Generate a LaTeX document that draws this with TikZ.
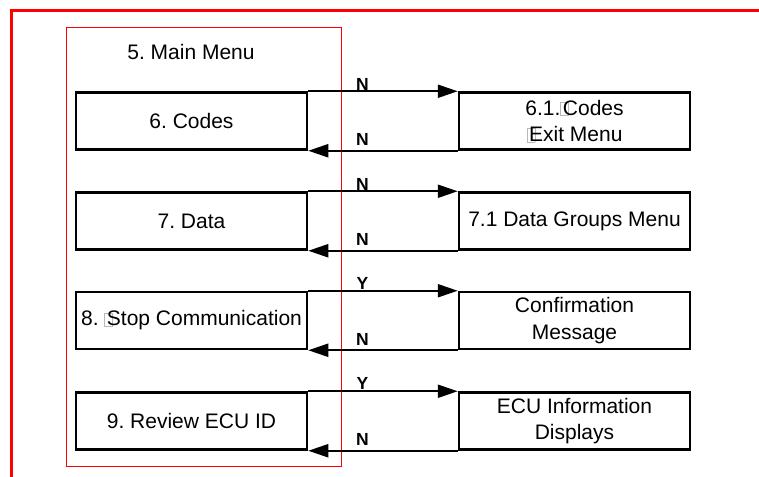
\documentclass[tikz,border=0pt]{standalone}
\usepackage{fontspec}
\setmainfont{Liberation Sans}
\usetikzlibrary{arrows.meta}
\frenchspacing
\newcommand\tofu{\makebox[0.12em][l]{{\color{gray!55}\fboxsep=0pt\fboxrule=0.4pt\fbox{\rule{0pt}{0.62em}\hspace{0.36em}}}}}
\tikzset{
  menubox/.style={draw=black, line width=2.5pt, minimum width=231pt, minimum height=57pt, inner sep=0pt, align=center, font=\fontsize{21}{26.5}\selectfont},
  flow/.style={line width=2.2pt, -{Triangle[length=20pt,width=13pt]}},
  yn/.style={font=\fontsize{17.5}{18}\selectfont\bfseries, inner sep=0pt}
}
\begin{document}
\begin{tikzpicture}[x=1pt,y=-1pt]
\useasboundingbox (0,0) rectangle (759,476);
\clip (0,0) rectangle (759,476);
\fill[white] (0,0) rectangle (759,476);
% outer red frame (extends beyond the picture)
\draw[red, line width=3pt] (11,11) rectangle (800,520);
% inner red frame
\draw[red, line width=1pt] (66.5,28) rectangle (341.5,466);
\node[font=\fontsize{21}{26}\selectfont] (title) at (191,52) {5. Main Menu};
% left boxes
\node[menubox] (a6) at (191.5,121) {6. Codes};
\node[menubox] (a7) at (191.5,221) {7. Data};
\node[menubox] (a8) at (191.5,320.5) {8.\ \tofu Stop Communication};
\node[menubox] (a9) at (191.5,421) {9. Review ECU ID};
% right boxes
\node[menubox] (b6) at (574.5,121) {6.1.\tofu Codes\\\tofu Exit Menu};
\node[menubox] (b7) at (574.5,221) {7.1 Data Groups Menu};
\node[menubox] (b8) at (574.5,320.5) {Confirmation\\Message};
\node[menubox] (b9) at (574.5,421) {ECU Information\\Displays};
% connectors
\foreach \i in {6,7,8,9}{
  \draw[flow] (a\i.north east) -- (b\i.north west);
  \draw[flow] (b\i.south west) -- (a\i.south east);
}
\node[yn] (n6a) at (362.5,84) {N};
\node[yn] (n6b) at (362.5,139) {N};
\node[yn] (n7a) at (362.5,184) {N};
\node[yn] (n7b) at (362.5,239) {N};
\node[yn] (n8a) at (362.5,283) {Y};
\node[yn] (n8b) at (362.5,339) {N};
\node[yn] (n9a) at (362.5,383) {Y};
\node[yn] (n9b) at (362.5,439) {N};
\end{tikzpicture}
\end{document}
